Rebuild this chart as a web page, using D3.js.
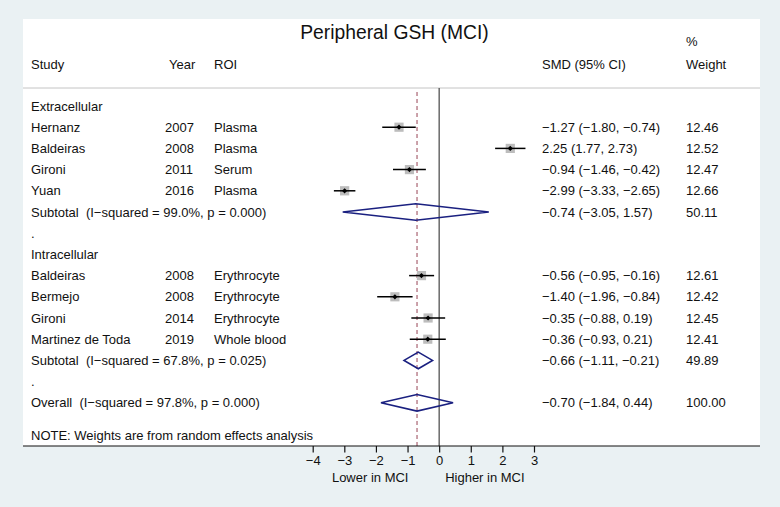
<!DOCTYPE html>
<html><head><meta charset="utf-8">
<script src="https://cdn.jsdelivr.net/npm/d3@7/dist/d3.min.js"></script>
<style>
html,body{margin:0;padding:0;background:#eaf1f3;}
svg{display:block;font-family:"Liberation Sans",Arial,Helvetica,sans-serif;}
svg text{white-space:pre;}
</style></head><body>
<svg id="c" width="780" height="507"></svg>
<script>
// ---- data ----
const title = "Peripheral GSH (MCI)";
const headers = ["Study", "Year", "ROI", "SMD (95% CI)", "Weight"];
const studies = ["Hernanz", "Baldeiras", "Gironi", "Yuan", "Baldeiras", "Bermejo", "Gironi", "Martinez de Toda"];
const years = ["2007", "2008", "2011", "2016", "2008", "2008", "2014", "2019"];
const rois = ["Plasma", "Plasma", "Serum", "Plasma", "Erythrocyte", "Erythrocyte", "Erythrocyte", "Whole blood"];
const smd = [-1.27, 2.25, -0.94, -2.99, -0.56, -1.40, -0.35, -0.36];
const lo = [-1.80, 1.77, -1.46, -3.33, -0.95, -1.96, -0.88, -0.93];
const hi = [-0.74, 2.73, -0.42, -2.65, -0.16, -0.84, 0.19, 0.21];
const weights = [12.46, 12.52, 12.47, 12.66, 12.61, 12.42, 12.45, 12.41];
const groups = ["Extracellular", "Extracellular", "Extracellular", "Extracellular", "Intracellular", "Intracellular", "Intracellular", "Intracellular"];
const groupNames = ["Extracellular", "Intracellular"];
const subLabels = ["Subtotal  (I\u2212squared = 99.0%, p = 0.000)", "Subtotal  (I\u2212squared = 67.8%, p = 0.025)"];
const subEst = [-0.74, -0.66];
const subLo = [-3.05, -1.11];
const subHi = [1.57, -0.21];
const subW = [50.11, 49.89];
const overallLabel = "Overall  (I\u2212squared = 97.8%, p = 0.000)";
const overall = [-0.70, -1.84, 0.44, 100.00];
const note = "NOTE: Weights are from random effects analysis";
const xTicks = [-4, -3, -2, -1, 0, 1, 2, 3];
const lowerLabel = "Lower in MCI", higherLabel = "Higher in MCI";

// ---- layout ----
const svg = d3.select("#c");
const panel = {x0: 23, x1: 760, y0: 19, y1: 446};
const x = d3.scaleLinear().domain([-4, 3]).range([312.7, 534]);
const rowY = d3.scaleLinear().domain([0, 1]).range([106, 127.2]);
const col = {study: 31, year: 165, roi: 214, smd: 542, w: 686};
const fmt = d3.format(".2f");
const m = v => fmt(v).replace(/-/g, "\u2212");
const ciTxt = (e, l, h) => `${m(e)} (${m(l)}, ${m(h)})`;

svg.append("rect").attr("x", panel.x0).attr("y", panel.y0)
  .attr("width", panel.x1 - panel.x0).attr("height", panel.y1 - panel.y0).attr("fill", "#fff");

const g = svg.append("g").attr("font-size", 13).attr("fill", "#111");

// title
svg.append("text").attr("x", 394.5).attr("y", 38.5).attr("text-anchor", "middle")
  .attr("font-size", 19.3).attr("fill", "#111").text(title);

// header
const hy = 65;
g.append("text").attr("x", col.study).attr("y", hy + 4).text(headers[0]);
g.append("text").attr("x", 169).attr("y", hy + 4).text(headers[1]);
g.append("text").attr("x", col.roi).attr("y", hy + 4).text(headers[2]);
g.append("text").attr("x", col.smd).attr("y", hy + 4).text(headers[3]);
g.append("text").attr("x", col.w).attr("y", 46).text("%");
g.append("text").attr("x", col.w).attr("y", hy + 4).text(headers[4]);
svg.append("line").attr("x1", panel.x0).attr("x2", panel.x1).attr("y1", 88).attr("y2", 88)
  .attr("stroke", "#c4c4c4").attr("stroke-width", 1);

// row assignment
const rows = [];
let r = 0;
groupNames.forEach((gn, gi) => {
  rows.push({type: "group", label: gn, r: r++});
  studies.forEach((s, i) => {
    if (groups[i] === gn) rows.push({type: "study", i, r: r++});
  });
  rows.push({type: "sub", gi, r: r++});
  rows.push({type: "dot", r: r++});
});
rows.push({type: "overall", r: r++});

const yTop = 88, yBot = panel.y1;
// reference lines
svg.append("line").attr("x1", x(overall[0])).attr("x2", x(overall[0]))
  .attr("y1", yTop + 4).attr("y2", yBot).attr("stroke", "#b57a86").attr("stroke-width", 1.4)
  .attr("stroke-dasharray", "4,3");
svg.append("line").attr("x1", x(0)).attr("x2", x(0)).attr("y1", yTop).attr("y2", yBot)
  .attr("stroke", "#444").attr("stroke-width", 1.2);

const diamond = (e, l, h, y) => {
  const hh = 8.3;
  return `M${x(l)},${y} L${x(e)},${y - hh} L${x(h)},${y} L${x(e)},${y + hh} Z`;
};

rows.forEach(d => {
  const y = rowY(d.r);
  const ty = y + 4.5;
  if (d.type === "group") {
    g.append("text").attr("x", col.study).attr("y", ty).text(d.label);
  } else if (d.type === "dot") {
    g.append("text").attr("x", col.study).attr("y", ty).text(".");
  } else if (d.type === "study") {
    const i = d.i;
    g.append("text").attr("x", col.study).attr("y", ty).text(studies[i]);
    g.append("text").attr("x", col.year).attr("y", ty).text(years[i]);
    g.append("text").attr("x", col.roi).attr("y", ty).text(rois[i]);
    g.append("text").attr("x", col.smd).attr("y", ty).text(ciTxt(smd[i], lo[i], hi[i]));
    g.append("text").attr("x", col.w).attr("y", ty).text(fmt(weights[i]));
    const s = Math.sqrt(weights[i]) * 2.6;
    svg.append("rect").attr("x", x(smd[i]) - s / 2).attr("y", y - s / 2)
      .attr("width", s).attr("height", s).attr("fill", "#bdbdbd");
    svg.append("line").attr("x1", x(lo[i])).attr("x2", x(hi[i])).attr("y1", y).attr("y2", y)
      .attr("stroke", "#000").attr("stroke-width", 1.5);
    const dr = 2.6;
    svg.append("path").attr("d", `M${x(smd[i]) - dr},${y} L${x(smd[i])},${y - dr} L${x(smd[i]) + dr},${y} L${x(smd[i])},${y + dr} Z`)
      .attr("fill", "#000");
  } else if (d.type === "sub") {
    const gi = d.gi;
    g.append("text").attr("x", col.study).attr("y", ty).text(subLabels[gi]);
    g.append("text").attr("x", col.smd).attr("y", ty).text(ciTxt(subEst[gi], subLo[gi], subHi[gi]));
    g.append("text").attr("x", col.w).attr("y", ty).text(fmt(subW[gi]));
    svg.append("path").attr("d", diamond(subEst[gi], subLo[gi], subHi[gi], y))
      .attr("fill", "none").attr("stroke", "#1a2080").attr("stroke-width", 1.6);
  } else if (d.type === "overall") {
    g.append("text").attr("x", col.study).attr("y", ty).text(overallLabel);
    g.append("text").attr("x", col.smd).attr("y", ty).text(ciTxt(overall[0], overall[1], overall[2]));
    g.append("text").attr("x", col.w).attr("y", ty).text(fmt(overall[3]));
    svg.append("path").attr("d", diamond(overall[0], overall[1], overall[2], y))
      .attr("fill", "none").attr("stroke", "#1a2080").attr("stroke-width", 1.6);
  }
});

g.append("text").attr("x", col.study).attr("y", 439.5).text(note);

// axis line & ticks
svg.append("line").attr("x1", panel.x0).attr("x2", panel.x1).attr("y1", yBot).attr("y2", yBot)
  .attr("stroke", "#111").attr("stroke-width", 1.2);
const ax = svg.append("g").attr("transform", `translate(0,${yBot})`)
  .call(d3.axisBottom(x).tickValues(xTicks).tickSize(6.5).tickPadding(3.5)
    .tickFormat(v => String(v).replace("-", "\u2212")));
ax.select(".domain").remove();
ax.selectAll("line").attr("stroke", "#111").attr("stroke-width", 1.2);
ax.selectAll("text").attr("font-size", 13).attr("fill", "#111")
  .attr("font-family", '"Liberation Sans",Arial,Helvetica,sans-serif');

svg.append("text").attr("x", x(-0.97)).attr("y", 482).attr("text-anchor", "end")
  .attr("font-size", 13).attr("fill", "#111").text(lowerLabel);
svg.append("text").attr("x", x(0.19)).attr("y", 482).attr("text-anchor", "start")
  .attr("font-size", 13).attr("fill", "#111").text(higherLabel);
</script>
</body></html>
